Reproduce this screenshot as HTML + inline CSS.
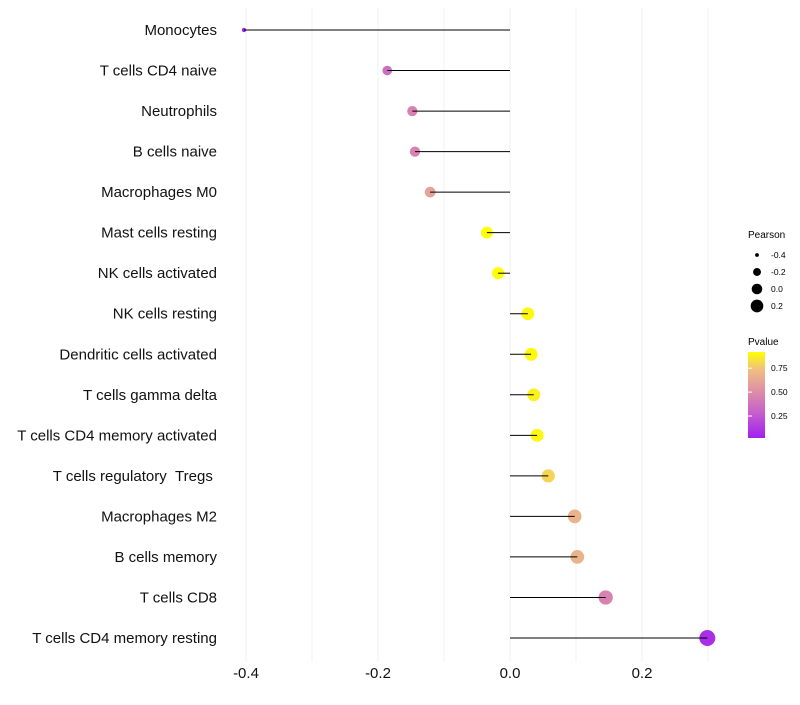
<!DOCTYPE html>
<html><head><meta charset="utf-8"><style>
body{margin:0;background:#fff;font-family:"Liberation Sans",sans-serif}
</style></head><body>
<svg id="chart" width="800" height="700" xmlns="http://www.w3.org/2000/svg" font-family="Liberation Sans, sans-serif">
<g id="grid"></g>
<g id="marks"></g>
<g id="ylabels"></g>
<g id="xlabels"></g>
<g>
<text x="748" y="238" font-size="10">Pearson</text>
<g id="sizeleg"></g>
</g>
<g>
<text x="748" y="345" font-size="10">Pvalue</text>
<defs><linearGradient id="cg" x1="0" y1="1" x2="0" y2="0">
<stop offset="0" stop-color="#a020f0"/><stop offset="0.3" stop-color="#c760cc"/><stop offset="0.55" stop-color="#de90a4"/><stop offset="0.8" stop-color="#f0c080"/><stop offset="1" stop-color="#ffff00"/>
</linearGradient></defs>
<rect x="748" y="352" width="17" height="86" fill="url(#cg)"/>
<g id="cticks"></g>
</g>
</svg>
<script>
const categories=["Monocytes","T cells CD4 naive","Neutrophils","B cells naive","Macrophages M0","Mast cells resting","NK cells activated","NK cells resting","Dendritic cells activated","T cells gamma delta","T cells CD4 memory activated","T cells regulatory \u00a0Tregs\u00a0","Macrophages M2","B cells memory","T cells CD8","T cells CD4 memory resting"];
const pearson=[-0.403,-0.186,-0.148,-0.144,-0.121,-0.035,-0.018,0.027,0.032,0.036,0.041,0.058,0.098,0.102,0.145,0.299];
const pvalue=[0.02,0.35,0.45,0.45,0.6,0.95,0.97,0.9,0.9,0.88,0.9,0.8,0.68,0.68,0.45,0.08];
const xTicks=[-0.4,-0.2,0.0,0.2];
const xTickLabels=["-0.4","-0.2","0.0","0.2"];
const gridVals=[-0.4,-0.3,-0.2,-0.1,0.0,0.1,0.2,0.3];
const sizeLegVals=[-0.4,-0.2,0.0,0.2];
const sizeLegLabels=["-0.4","-0.2","0.0","0.2"];
const cTickVals=[0.25,0.5,0.75];
const cTickLabels=["0.25","0.50","0.75"];
const NS="http://www.w3.org/2000/svg";
const x=v=>510+v*660;
const y=i=>30+i*(608/15);
const rad=v=>{const a=(v+0.4)/0.7;return Math.sqrt(5+a*(64-5));};
const stops=[[0,[160,32,240]],[0.3,[199,96,204]],[0.55,[222,144,164]],[0.8,[240,192,128]],[1,[255,255,0]]];
function col(p){let t=(p-0.02)/(0.92-0.02);t=Math.max(0,Math.min(1,t));
for(let k=1;k<stops.length;k++){if(t<=stops[k][0]){const [t0,c0]=stops[k-1],[t1,c1]=stops[k];const f=(t-t0)/(t1-t0);return 'rgb('+c0.map((c,j)=>Math.round(c+(c1[j]-c)*f)).join(',')+')';}}return 'rgb(255,255,0)';}
function mk(tag,attrs,parent){const e=document.createElementNS(NS,tag);for(const k in attrs)e.setAttribute(k,attrs[k]);document.getElementById(parent).appendChild(e);return e;}
gridVals.forEach(v=>{const l=mk('line',{x1:x(v),x2:x(v),y1:8,y2:662,stroke:'#f0f0f0','stroke-width':1},'grid');

});
categories.forEach((c,i)=>{
const cc=mk('circle',{cx:x(pearson[i]),cy:y(i),r:rad(pearson[i]),fill:col(pvalue[i])},'marks');


const l=mk('line',{x1:x(pearson[i]),x2:x(0),y1:y(i),y2:y(i),stroke:'#000','stroke-width':1},'marks');


const t=mk('text',{x:217,y:y(i)+5,'text-anchor':'end','font-size':15,fill:'#111'},'ylabels');t.textContent=c;

});
xTicks.forEach((v,i)=>{const t=mk('text',{x:x(v),y:678,'text-anchor':'middle','font-size':15,fill:'#111'},'xlabels');t.textContent=xTickLabels[i];

});
sizeLegVals.forEach((v,i)=>{const cy=255+i*17;const c=mk('circle',{cx:757,cy:cy,r:rad(v)*0.85,fill:'#000'},'sizeleg');


const t=mk('text',{x:771,y:cy+3,'font-size':8.5},'sizeleg');t.textContent=sizeLegLabels[i];

});
cTickVals.forEach((v,i)=>{const cy=438-(v-0.02)/(0.92-0.02)*86;
const l=mk('line',{x1:748,x2:752,y1:cy,y2:cy,stroke:'#fff'},'cticks');


const t=mk('text',{x:771,y:cy+3,'font-size':8.5},'cticks');t.textContent=cTickLabels[i];

});
</script>
</body></html>
